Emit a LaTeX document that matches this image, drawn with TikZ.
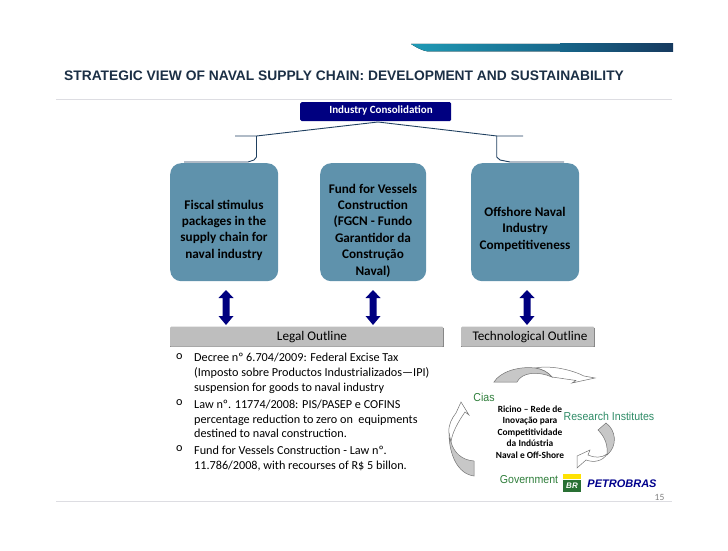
\documentclass[tikz,border=0pt]{standalone}
\usepackage{fontspec}
\setmainfont{Carlito}
\newfontfamily\hv{Liberation Sans}
\newfontfamily\hvc[FakeStretch=0.92]{Liberation Sans}
\definecolor{boxblue}{HTML}{5F92AC}
\definecolor{navy}{HTML}{000080}
\definecolor{linec}{HTML}{1F3F5F}
\definecolor{titlec}{HTML}{1B2F45}
\definecolor{greyb}{HTML}{BEBEBE}
\definecolor{greent}{HTML}{2E7D3A}
\definecolor{greenr}{HTML}{2E8B66}
\definecolor{rule}{HTML}{DDDDE2}
\definecolor{band1}{HTML}{1F9AB5}
\definecolor{band2}{HTML}{17668A}
\definecolor{band3}{HTML}{163A5F}
\tikzset{
 bluebox/.style={fill=boxblue,rounded corners=11pt,minimum width=108pt,minimum height=118pt,anchor=north west,inner sep=0pt},
 boxtext/.style={align=center,inner sep=0pt,font=\bfseries\fontsize{13.2}{16.4}\selectfont},
 greybox/.style={fill=greyb,rounded corners=1pt,anchor=north west,minimum height=20pt,inner sep=0pt},
 bullettext/.style={anchor=north west,align=left,inner sep=0pt,font=\fontsize{12.2}{14.9}\selectfont},
 bulletmark/.style={anchor=north west,inner sep=0pt,font=\fontsize{12.2}{14.9}\selectfont},
 green label/.style={inner sep=0pt,text=greent,font=\hvc\fontsize{11.5}{14}\selectfont},
 dbl/.style={fill=navy,draw=none},
 conn/.style={draw=linec,line width=0.9pt},
 cyc/.style={draw=black!55,line width=0.5pt,fill=white},
 cycg/.style={draw=black!55,line width=0.5pt,fill=black!22},
 shadowline/.style={draw=black!50,line width=1pt},
}
\newcommand{\dblarrow}[1]{\fill[dbl] (#1-7.5,298) -- (#1,290) -- (#1+7.5,298) -- (#1+3.5,298) -- (#1+3.5,316) -- (#1+7.5,316) -- (#1,325) -- (#1-7.5,316) -- (#1-3.5,316) -- (#1-3.5,298) -- cycle;}
\begin{document}
\begin{tikzpicture}[x=1pt,y=-1pt]
\useasboundingbox (0,0) rectangle (728,551);
% top band
\fill[left color=band1,right color=band2] (411,44) -- (560,44) -- (560,51.5) -- (428,51.5) .. controls (420,50) and (416,47) .. (411,44) -- cycle;
\fill[left color=band2,right color=band3] (560,44) rectangle (673,51.5);
\node[anchor=west,inner sep=0pt,text=titlec,font=\hv\bfseries\fontsize{13.8}{16}\selectfont] (title) at (64,76) {STRATEGIC VIEW OF NAVAL SUPPLY CHAIN: DEVELOPMENT AND SUSTAINABILITY};
\draw[rule,line width=0.8pt] (56,99.5) -- (672,99.5);
\draw[rule,line width=0.8pt] (56,501) -- (672,501);
% top node
\node[fill=navy,rounded corners=1.5pt,anchor=north west,minimum width=151pt,minimum height=19pt,inner sep=0pt] (top) at (300,102) {};
\node[inner sep=0pt,text=white,font=\bfseries\fontsize{11}{12}\selectfont] (topt) at (381,110.5) {Industry Consolidation};
% boxes
\node[bluebox] (b1) at (170,163) {};
\node[boxtext] (t1) at (224,230) {Fiscal stimulus\\packages in the\\supply chain for\\naval industry};
\node[bluebox,minimum width=106pt] (b2) at (320,163) {};
\node[boxtext] (t2) at (373,230.5) {Fund for Vessels\\Construction\\(FGCN - Fundo\\Garantidor da\\Construção\\Naval)};
\node[bluebox] (b3) at (471,163) {};
\node[boxtext] (t3) at (525,229) {Offshore Naval\\Industry\\Competitiveness};
% brackets
\coordinate (apex) at (378,122);
\coordinate (lstub) at (235,136);
\coordinate (rstub) at (523,136);
\draw[conn] (lstub) -- (256.5,136) -- (apex) -- (497,136) -- (rstub);
\draw[conn] (256.5,136) -- (256.5,157) -- (254,160) -- (248,162) -- (184,162);
\draw[conn] (496.7,136) -- (496.7,157) -- (500,160) -- (510,162) -- (564,162);
% double arrows
\dblarrow{226}
\dblarrow{373}
\dblarrow{527}
% outline boxes
\draw[shadowline] (443,327.5) -- (443,346.5) -- (170,346.5);
\draw[shadowline] (594,327.5) -- (594,346.5) -- (461,346.5);
\node[greybox,minimum width=273pt] (legal) at (170,326.5) {};
\node[inner sep=0pt,font=\fontsize{13.2}{15}\selectfont] (legalt) at (312,337) {Legal Outline};
\node[greybox,minimum width=133pt] (tech) at (461,326.5) {};
\node[inner sep=0pt,font=\fontsize{13.2}{15}\selectfont] (techt) at (530,337) {Technological Outline};
% bullets
\node[bulletmark] (m1) at (176,353) {o};
\node[bullettext] (l1) at (194,353) {Decree nº 6.704/2009: Federal Excise Tax\\(Imposto sobre Productos Industrializados—IPI)\\suspension for goods to naval industry};
\node[bulletmark] (m2) at (176,399.5) {o};
\node[bullettext] (l2) at (194,399.5) {Law nº. 11774/2008: PIS/PASEP e COFINS\\percentage reduction to zero on\ \ equipments\\destined to naval construction.};
\node[bulletmark] (m3) at (176,445.5) {o};
\node[bullettext] (l3) at (194,445.5) {Fund for Vessels Construction - Law nº.\\11.786/2008, with recourses of R\$ 5 billon.};
% top cycle arrow
\draw[cyc] (535,368) .. controls (552,365) and (572,370) .. (584,376) -- (595,378) -- (572,383) -- (576,380.5) -- (552,377) .. controls (548,372) and (542,369) .. (535,368) -- cycle;
\draw[cycg] (494,382) .. controls (500,372) and (518,366) .. (535,368) .. controls (542,369) and (548,372) .. (552,377) .. controls (538,371) and (522,372) .. (517,382) -- cycle;
% left cycle arrow
\draw[cyc] (449,433) .. controls (448,425) and (452,418) .. (456,413) -- (461,402) -- (469,415) -- (465,412) .. controls (458,422) and (452,433) .. (451,442) -- cycle;
\draw[cycg] (451,442) .. controls (449,438) and (449,436) .. (449,433) .. controls (449,455) and (458,474) .. (474,476) -- (474,461) .. controls (462,460) and (454,453) .. (451,442) -- cycle;
% right cycle arrow
\draw[cyc] (607,454) .. controls (602,458) and (594,458) .. (588,455) -- (590,450) -- (577,456) -- (577,468) -- (586,460) .. controls (594,463) and (603,461) .. (607,454) -- cycle;
\draw[cycg] (598,430) -- (606,423) .. controls (616,430) and (618,446) .. (607,455) .. controls (608,445) and (605,437) .. (598,430) -- cycle;
% labels
\node[green label] (cias) at (484,397) {Cias};
\node[green label,text=greenr] (ri) at (609,416) {Research Institutes};
\node[green label] (gov) at (529,480) {Government};
\node[align=center,inner sep=0pt,font=\bfseries\fontsize{9.4}{11.5}\selectfont] (rede) at (530,432) {Ricino – Rede de\\Inovação para\\Competitividade\\da Indústria\\Naval e Off-Shore};
% logo
\fill[greent!90!black] (563,480) rectangle (581,492);
\fill[yellow!85!orange] (563,474) rectangle (581,479);
\node[inner sep=0pt,text=white,font=\hv\bfseries\itshape\fontsize{8}{8}\selectfont] (br) at (572,486) {BR};
\node[inner sep=0pt,text=blue!55!black,font=\hv\bfseries\itshape\fontsize{11}{12}\selectfont] (pb) at (622,484) {PETROBRAS};
\node[inner sep=0pt,text=black!50,font=\fontsize{9.5}{11}\selectfont] (num) at (659.5,497) {15};
\end{tikzpicture}
\end{document}
